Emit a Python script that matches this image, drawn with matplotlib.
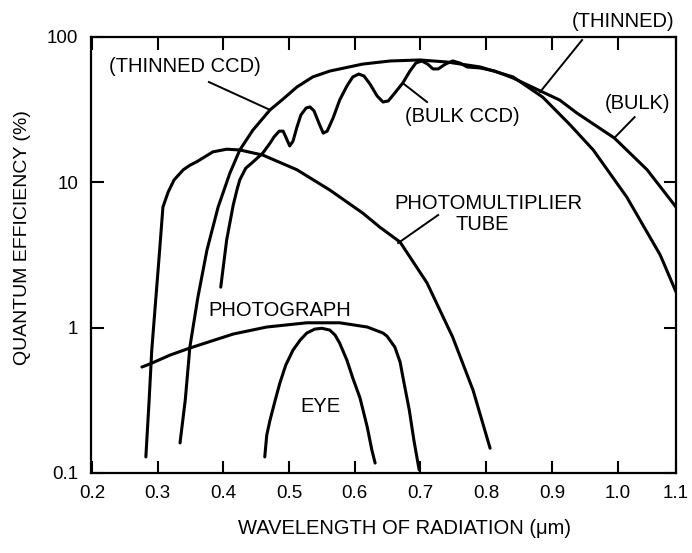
import numpy as np
import matplotlib.pyplot as plt
from matplotlib.ticker import FixedLocator, FixedFormatter, NullLocator

plt.rcParams['font.family'] = ['Liberation Sans', 'DejaVu Sans']

# wavelength (um) and quantum efficiency (%)

pmt_wl = [0.282, 0.287, 0.291, 0.297, 0.303, 0.308, 0.316, 0.325, 0.339, 0.349,
          0.360, 0.384, 0.405, 0.425, 0.460, 0.512, 0.562, 0.612, 0.638, 0.669,
          0.710, 0.749, 0.780, 0.806]
pmt_qe = [0.129, 0.318, 0.701, 1.55, 3.42, 6.76, 8.58, 10.4, 12.2, 13.1,
          13.9, 16.2, 16.9, 16.7, 15.4, 12.2, 8.85, 6.15, 4.92, 3.88,
          2.03, 0.861, 0.372, 0.148]

thin_wl = [0.334, 0.342, 0.349, 0.361, 0.375, 0.392, 0.410, 0.425, 0.445, 0.471,
           0.489, 0.512, 0.536, 0.562, 0.612, 0.654, 0.699, 0.740, 0.791, 0.841,
           0.886, 0.928, 0.963, 1.014, 1.065, 1.089]
thin_qe = [0.161, 0.318, 0.735, 1.60, 3.42, 6.76, 11.6, 16.7, 22.9, 31.5,
           36.8, 45.3, 53.1, 58.3, 65.1, 68.4, 69.5, 67.3, 62.2, 53.1,
           38.6, 24.8, 16.7, 7.92, 3.16, 1.76]

bulk_wl = [0.396, 0.405, 0.415, 0.421, 0.425, 0.434, 0.445, 0.460, 0.471, 0.477,
           0.485, 0.491, 0.495, 0.501, 0.506, 0.512, 0.518, 0.526, 0.532, 0.538,
           0.546, 0.552, 0.558, 0.567, 0.577, 0.588, 0.597, 0.606, 0.614, 0.623,
           0.634, 0.643, 0.651, 0.661, 0.673, 0.684, 0.693, 0.702, 0.711, 0.719,
           0.727, 0.738, 0.749, 0.760, 0.771, 0.791, 0.813, 0.841, 0.886, 0.912,
           0.938, 0.995, 1.045, 1.089]
bulk_qe = [1.90, 4.01, 6.98, 9.0, 10.4, 12.5, 13.8, 15.9, 18.6, 20.5,
           22.5, 22.5, 20.5, 17.8, 19.2, 24.0, 29.1, 32.5, 33.0, 31.0,
           25.2, 21.8, 22.5, 27.7, 36.8, 46.0, 53.1, 55.6, 53.9, 47.6,
           39.3, 35.7, 36.3, 41.2, 48.2, 58.3, 66.2, 68.4, 65.1, 60.3,
           60.3, 65.1, 68.4, 66.2, 62.2, 61.2, 58.3, 52.2, 41.8, 36.8,
           30.0, 20.2, 12.2, 6.76]

photo_wl = [0.276, 0.288, 0.319, 0.349, 0.415, 0.466, 0.527, 0.577, 0.619, 0.643,
            0.649, 0.661, 0.669, 0.675, 0.683, 0.690, 0.698]
photo_qe = [0.536, 0.562, 0.648, 0.724, 0.904, 1.01, 1.08, 1.08, 1.01, 0.918,
            0.875, 0.735, 0.580, 0.416, 0.271, 0.168, 0.105]

eye_wl = [0.463, 0.466, 0.471, 0.479, 0.486, 0.495, 0.506, 0.517, 0.527, 0.539,
          0.550, 0.562, 0.570, 0.577, 0.588, 0.597, 0.608, 0.619, 0.626, 0.631]
eye_qe = [0.129, 0.182, 0.231, 0.318, 0.416, 0.553, 0.701, 0.822, 0.918, 0.977,
          0.99, 0.962, 0.889, 0.783, 0.598, 0.450, 0.328, 0.207, 0.144, 0.117]

x_ticks = [0.2, 0.3, 0.4, 0.5, 0.6, 0.7, 0.8, 0.9, 1.0, 1.089]
x_labels = ['0.2', '0.3', '0.4', '0.5', '0.6', '0.7', '0.8', '0.9', '1.0', '1.1']
y_ticks = [0.1, 1, 10, 100]
y_labels = ['0.1', '1', '10', '100']

fig = plt.figure(figsize=(6.92, 5.53), dpi=100)
ax = fig.add_axes([0.1315, 0.1447, 0.8454, 0.7884])

lw = 2.2
for wl, qe in [(pmt_wl, pmt_qe), (thin_wl, thin_qe), (bulk_wl, bulk_qe),
               (photo_wl, photo_qe), (eye_wl, eye_qe)]:
    ax.plot(wl, qe, color='k', lw=lw, solid_capstyle='round', solid_joinstyle='round')

ax.set_yscale('log')
ax.set_xlim(0.1985, 1.089)
ax.set_ylim(0.1, 100)
ax.xaxis.set_major_locator(FixedLocator(x_ticks))
ax.xaxis.set_major_formatter(FixedFormatter(x_labels))
ax.yaxis.set_major_locator(FixedLocator(y_ticks))
ax.yaxis.set_major_formatter(FixedFormatter(y_labels))
ax.yaxis.set_minor_locator(NullLocator())
ax.xaxis.set_minor_locator(NullLocator())
ax.tick_params(direction='in', top=True, right=True, length=9, width=1.5,
               labelsize=13.5, pad=9)
for s in ax.spines.values():
    s.set_linewidth(1.6)

# labels with leader lines
fs = 14.5
ax.text(0.342, 62.2, '(THINNED CCD)', fontsize=fs, ha='center', va='center')
ax.plot([0.378, 0.471], [49.0, 31.5], color='k', lw=1.4)

ax.text(0.676, 28.6, '(BULK CCD)', fontsize=fs, ha='left', va='center')
ax.plot([0.710, 0.673], [35.7, 48.2], color='k', lw=1.4)

ax.text(1.008, 127, '(THINNED)', fontsize=fs, ha='center', va='center', clip_on=False)
ax.plot([0.946, 0.882], [95.3, 41.8], color='k', lw=1.4)

ax.text(1.031, 35.1, '(BULK)', fontsize=fs, ha='center', va='center')
ax.plot([1.026, 0.995], [28.1, 20.2], color='k', lw=1.4)

ax.text(0.803, 7.20, 'PHOTOMULTIPLIER', fontsize=fs, ha='center', va='center')
ax.text(0.794, 5.16, 'TUBE', fontsize=fs, ha='center', va='center')
ax.plot([0.727, 0.666], [5.96, 3.82], color='k', lw=1.4)

ax.text(0.486, 1.32, 'PHOTOGRAPH', fontsize=fs, ha='center', va='center')
ax.text(0.547, 0.285, 'EYE', fontsize=fs, ha='center', va='center')

fig.text(0.033, 0.570, 'QUANTUM EFFICIENCY (%)', fontsize=14, rotation=90,
         ha='center', va='center')
fig.text(0.585, 0.045, 'WAVELENGTH OF RADIATION (\u03bcm)', fontsize=14.5,
         ha='center', va='center')

fig.savefig('out.png', dpi=100)
